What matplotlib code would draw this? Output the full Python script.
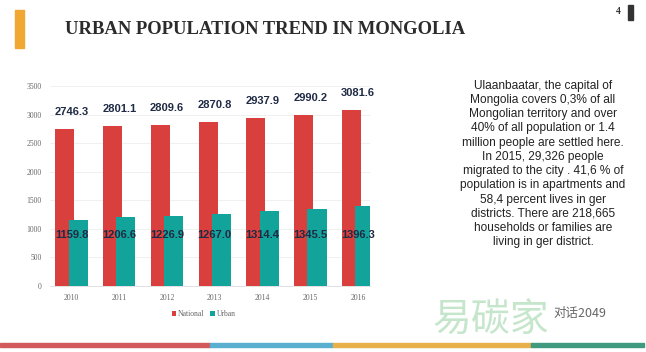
"""Urban population trend in Mongolia - bar chart slide"""
import numpy as np
import matplotlib
matplotlib.use('Agg')
import matplotlib.pyplot as plt
from matplotlib.patches import Rectangle

years = ['2010', '2011', '2012', '2013', '2014', '2015', '2016']
national = [2746.3, 2801.1, 2809.6, 2870.8, 2937.9, 2990.2, 3081.6]
urban = [1159.8, 1206.6, 1226.9, 1267.0, 1314.4, 1345.5, 1396.3]

note = ("Ulaanbaatar, the capital of\n"
        "Mongolia covers 0,3% of all\n"
        "Mongolian territory and over\n"
        "40% of all population or 1.4\n"
        "million people are settled here.\n"
        "In 2015, 29,326 people\n"
        "migrated to the city . 41,6 % of\n"
        "population is in apartments and\n"
        "58,4 percent lives in ger\n"
        "districts. There are 218,665\n"
        "households or families are\n"
        "living in ger district.")

RED = '#d9403d'
TEAL = '#12a39b'
LABEL = '#1f2a44'

fig = plt.figure(figsize=(6.46, 3.52), dpi=100)
fig.patch.set_facecolor('white')

# slide decorations
fig.patches.append(Rectangle((15 / 646, 1 - 48 / 352), 9 / 646, 38 / 352,
                             transform=fig.transFigure, color='#f0a832'))
fig.patches.append(Rectangle((628 / 646, 1 - 20 / 352), 5 / 646, 15 / 352,
                             transform=fig.transFigure, color='#333333'))
fig.text(621 / 646, 1 - 12 / 352, '4', fontsize=7, family='Liberation Serif',
         fontweight='bold', color='#333333', ha='right', va='center')
fig.text(65 / 646, 1 - 30 / 352, 'URBAN POPULATION TREND IN MONGOLIA',
         fontsize=13.4, family='Liberation Serif', fontweight='bold',
         color='#2b2b2b', ha='left', va='center')
stripes = [(0, 210, '#d35a5c'), (210, 333, '#5aaed0'),
           (333, 531, '#e8b04a'), (531, 644, '#3f9a80')]
for x0, x1, c in stripes:
    fig.patches.append(Rectangle((x0 / 646, 1 - 347 / 352), (x1 - x0) / 646, 4 / 352,
                                 transform=fig.transFigure, color=c))

# bar chart
ax = fig.add_axes([50 / 646, 1 - 286 / 352, 320 / 646, 200 / 352])
x = np.arange(len(years))
ax.bar(x - 0.14, national, width=0.4, color=RED, label='National', zorder=2)
ax.bar(x + 0.14, urban, width=0.4, color=TEAL, label='Urban', zorder=3)

for i in range(len(years)):
    ax.text(x[i], national[i] + 300, f'{national[i]:.1f}', ha='center', va='center',
            fontsize=8, fontweight='bold', family='Liberation Sans', color=LABEL, zorder=4)
    ax.text(x[i], 900, f'{urban[i]:.1f}', ha='center', va='center',
            fontsize=8, fontweight='bold', family='Liberation Sans', color=LABEL, zorder=4)

ax.set_xlim(-0.45, 6.25)
ax.set_ylim(0, 3500)
ax.set_yticks(range(0, 3501, 500))
ax.set_xticks(x)
ax.set_xticklabels(years)
ax.tick_params(length=0, labelsize=5.5, colors='#666666', pad=6)
for lab in ax.get_xticklabels() + ax.get_yticklabels():
    lab.set_family('Liberation Serif')
ax.yaxis.grid(True, color='#eeeeee', linewidth=0.6, zorder=0)
for s in ['top', 'right', 'left']:
    ax.spines[s].set_visible(False)
ax.spines['bottom'].set_color('#dddddd')
ax.spines['bottom'].set_linewidth(0.6)

leg = ax.legend(loc='upper center', bbox_to_anchor=(0.48, -0.085), ncol=2, frameon=False,
                prop={'family': 'Liberation Serif', 'size': 5.5},
                handlelength=0.6, handleheight=0.6, handletextpad=0.2, columnspacing=0.8)
for t in leg.get_texts():
    t.set_color('#666666')

# side note
fig.text(543 / 646, 1 - 164 / 352, note, ha='center', va='center', fontsize=8.6,
         family='Liberation Sans', color='#222222', linespacing=1.25)

# watermark
fig.text(432 / 646, 1 - 320 / 352, '易碳家', fontsize=28,
         family=['Noto Sans CJK SC', 'DejaVu Sans'], color='#b8e0c0',
         alpha=0.8, ha='left', va='center', zorder=0)
fig.text(553 / 646, 1 - 313 / 352, '对话2049', fontsize=9,
         family=['Noto Sans CJK SC', 'DejaVu Sans'], color='#666666',
         ha='left', va='center')

plt.savefig('out.png', dpi=100)
